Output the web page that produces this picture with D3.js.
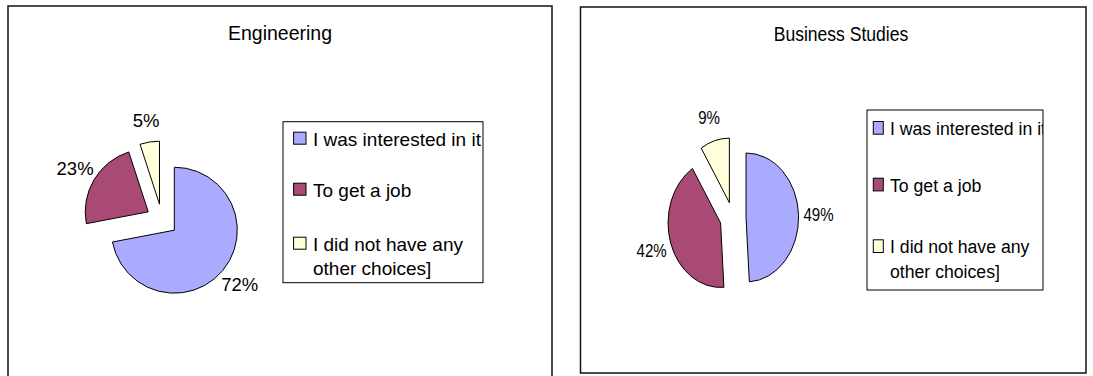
<!DOCTYPE html>
<html>
<head>
<meta charset="utf-8">
<script src="https://cdn.jsdelivr.net/npm/d3@7"></script>
<style>
  html, body { margin: 0; padding: 0; background: #fff; }
  svg { display: block; font-family: "Liberation Sans", Arial, sans-serif; }
</style>
</head>
<body>
<svg id="chart" width="1093" height="376"></svg>
<script>
// Reasons for choosing the course, per subject
const categories = ["I was interested in it", "To get a job", "I did not have any other choices]"];
const chartTitles = ["Engineering", "Business Studies"];
const engineeringValues = [72, 23, 5];
const businessValues = [49, 42, 9];
const sliceColors = ["#AAAAFF", "#A94A74", "#FFFFD9"];

// Layout of the two chart panels
const panels = [
  {
    title: chartTitles[0], values: engineeringValues,
    box: { x0: 8, y0: 6, x1: 552, y1: 382 },
    cx: 162, cy: 220, r: 63, explode: 16, labelR: 101, pieSx: 1,
    titleX: 280, titleY: 40, titleSx: 1,
    legend: { x0: 283, y0: 121.7, x1: 483, y1: 282.7, swX: 293.6, swW: 12.4, swH: 12,
              textX: 313, baselines: [145.7, 196.7, 250.7], lineH: 24.5, textSx: 1 }
  },
  {
    title: chartTitles[1], values: businessValues,
    box: { x0: 580.5, y0: 7, x1: 1086, y1: 373 },
    cx: 733, cy: 218, r: 64.5, explode: 16, labelR: 105, pieSx: 0.815,
    titleX: 841, titleY: 40.7, titleSx: 0.9,
    legend: { x0: 867, y0: 110, x1: 1043, y1: 290, swX: 873.3, swW: 10, swH: 12.7,
              textX: 890, baselines: [135, 191.7, 253.3], lineH: 25, textSx: 0.93 }
  }
];

const svg = d3.select("#chart");
const pie = d3.pie().sort(null).value(d => d).startAngle(0).endAngle(2 * Math.PI);
const wrapWidth = 175;

// split a label into lines no wider than wrapWidth at the legend font
const measurer = svg.append("text").attr("font-size", 19).attr("visibility", "hidden");
function wrapLines(str) {
  const words = str.split(" ");
  const lines = [];
  let cur = "";
  words.forEach(w => {
    const test = cur ? cur + " " + w : w;
    measurer.text(test);
    if (cur && measurer.node().getComputedTextLength() > wrapWidth) {
      lines.push(cur);
      cur = w;
    } else {
      cur = test;
    }
  });
  if (cur) lines.push(cur);
  return lines;
}

panels.forEach((p, pi) => {
  const g = svg.append("g");

  // outer frame
  g.append("rect")
    .attr("x", p.box.x0).attr("y", p.box.y0)
    .attr("width", p.box.x1 - p.box.x0).attr("height", p.box.y1 - p.box.y0)
    .attr("fill", "#fff").attr("stroke", "#111").attr("stroke-width", 1.5);

  // title
  g.append("text")
    .attr("transform", `translate(${p.titleX},${p.titleY}) scale(${p.titleSx},1)`)
    .attr("text-anchor", "middle")
    .attr("font-size", 19.5)
    .attr("fill", "#000")
    .text(p.title);

  // exploded pie
  const arcs = pie(p.values);
  const arc = d3.arc().innerRadius(0).outerRadius(p.r);
  const labelArc = d3.arc().innerRadius(p.labelR).outerRadius(p.labelR);
  const pg = g.append("g")
    .attr("transform", `translate(${p.cx},${p.cy}) scale(${p.pieSx},1)`);

  pg.selectAll("path.slice")
    .data(arcs)
    .join("path")
    .attr("class", "slice")
    .attr("d", arc)
    .attr("transform", d => {
      const mid = (d.startAngle + d.endAngle) / 2;
      return `translate(${p.explode * Math.sin(mid)},${-p.explode * Math.cos(mid)})`;
    })
    .attr("fill", (d, i) => sliceColors[i])
    .attr("stroke", "#000")
    .attr("stroke-width", 1)
    .attr("vector-effect", "non-scaling-stroke")
    .attr("stroke-linejoin", "round");

  pg.selectAll("text.pct")
    .data(arcs)
    .join("text")
    .attr("class", "pct")
    .attr("x", d => labelArc.centroid(d)[0])
    .attr("y", d => labelArc.centroid(d)[1])
    .attr("dy", "0.36em")
    .attr("text-anchor", "middle")
    .attr("font-size", 18.5)
    .attr("fill", "#000")
    .text(d => d.data + "%");

  // legend
  const L = p.legend;
  const clipId = "legend-clip-" + pi;
  g.append("clipPath").attr("id", clipId)
    .append("rect")
    .attr("x", L.x0).attr("y", L.y0)
    .attr("width", L.x1 - L.x0).attr("height", L.y1 - L.y0);

  g.append("rect")
    .attr("x", L.x0).attr("y", L.y0)
    .attr("width", L.x1 - L.x0).attr("height", L.y1 - L.y0)
    .attr("fill", "#fff").attr("stroke", "#000").attr("stroke-width", 1);

  const lg = g.append("g").attr("clip-path", `url(#${clipId})`);
  categories.forEach((c, i) => {
    const base = L.baselines[i];
    lg.append("rect")
      .attr("x", L.swX).attr("y", base - 13.5)
      .attr("width", L.swW).attr("height", L.swH)
      .attr("fill", sliceColors[i])
      .attr("stroke", "#000").attr("stroke-width", 1);
    const lines = wrapLines(c);
    const t = lg.append("text")
      .attr("transform", `translate(${L.textX},${base}) scale(${L.textSx},1)`)
      .attr("font-size", 19)
      .attr("fill", "#000");
    lines.forEach((ln, k) => {
      t.append("tspan").attr("x", 0).attr("y", k * L.lineH).text(ln);
    });
  });
});

measurer.remove();
</script>
</body>
</html>
